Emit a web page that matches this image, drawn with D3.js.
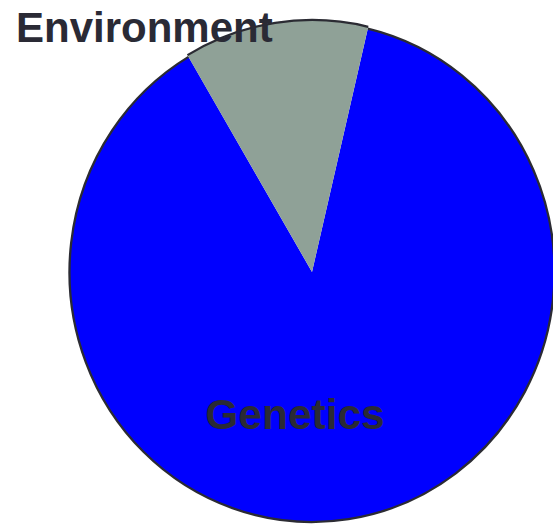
<!DOCTYPE html>
<html><head><meta charset="utf-8">
<script src="https://cdn.jsdelivr.net/npm/d3@7"></script>
<style>html,body{margin:0;padding:0;background:#fff;overflow:hidden} svg{display:block}</style>
</head><body>
<script>
// Data
const categories = ["Genetics", "Environment"];
const values = [87.8, 12.2];
const colors = ["#0000ff", "#8fa197"];

// Layout
const W = 553, H = 525;
const cx = 312, cy = 272, sx = 0.97;
const outerR = [250, 252];
const startDeg = 13.3;
const labelPos = [
  {x: 295, y: 429, anchor: "middle", size: 42.5},
  {x: 16, y: 42, anchor: "start", size: 42}
];

const svg = d3.select("body").append("svg").attr("width", W).attr("height", H);
const pie = d3.pie().sort(null).value(d => d.value)
  .startAngle(startDeg * Math.PI / 180)
  .endAngle(startDeg * Math.PI / 180 + 2 * Math.PI);
const data = categories.map((c, i) => ({name: c, value: values[i], color: colors[i], r: outerR[i]}));
const arcs = pie(data);

const g = svg.append("g").attr("transform", `translate(${cx},${cy}) scale(${sx},1)`);
arcs.forEach(a => {
  const fillArc = d3.arc().innerRadius(0).outerRadius(a.data.r);
  g.append("path").attr("d", fillArc(a)).attr("fill", a.data.color);
  const rim = d3.arc().innerRadius(a.data.r).outerRadius(a.data.r);
  g.append("path").attr("d", rim(a)).attr("fill", "none")
    .attr("stroke", "#2b2b33").attr("stroke-width", 2.3)
    .attr("vector-effect", "non-scaling-stroke");
});

arcs.forEach((a, i) => {
  svg.append("text")
    .attr("x", labelPos[i].x).attr("y", labelPos[i].y)
    .attr("text-anchor", labelPos[i].anchor)
    .attr("font-family", "'Liberation Sans', Arial, sans-serif")
    .attr("font-weight", "bold")
    .attr("font-size", labelPos[i].size)
    .attr("fill", "#2a2a35")
    .text(a.data.name);
});
</script>
</body></html>
